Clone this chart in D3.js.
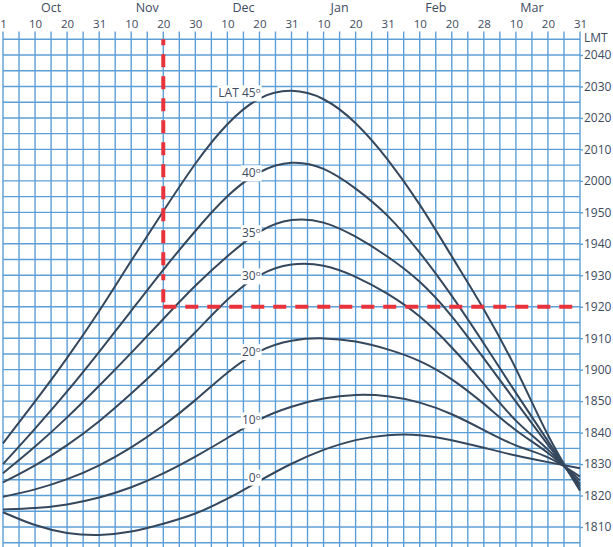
<!DOCTYPE html>
<html><head><meta charset="utf-8">
<script src="https://cdn.jsdelivr.net/npm/d3@7"></script>
<style>
html,body{margin:0;padding:0;background:#fff;}
svg{display:block;font-family:"Open Sans",sans-serif;}
</style>
</head><body>
<svg id="chart" width="613" height="547"></svg>
<script>
// ---- Data ----
const months = ["Oct","Nov","Dec","Jan","Feb","Mar"];
const dayLabels = ["1","10","20","31","10","20","30","10","20","31","10","20","31","10","20","28","10","20","31"];
// position of each labelled day along the 36-step grid (6 steps per month)
const dayIndex = [0,2,4,6,8,10,12,14,16,18,20,22,24,26,28,30,32,34,36];
// LMT ticks, minutes after 18:00 (1810 ... 2040)
const lmtTicks = [10,20,30,40,50,60,70,80,90,100,110,120,130,140,150,160];
const latitudes = ["0","10","20","30","35","40","45"];
// times in minutes after 18:00 LMT, one value per labelled day
const lat0  = [14.7,10.3,7.8,7.2,8.3,11.0,14.0,18.8,24.7,30.3,34.7,37.9,39.4,39.5,37.7,35.2,32.6,30.6,28.7];
const lat10 = [15.6,15.9,17.0,19.2,22.4,26.9,32.3,38.2,44.6,48.4,51.1,52.2,51.8,49.8,46.1,40.8,35.5,32.8,26.0];
const lat20 = [19.6,21.8,25.0,29.4,35.1,42.1,50.1,59.4,66.5,69.6,70.2,69.2,66.6,63.1,57.3,49.3,40.3,34.0,24.8];
const lat30 = [24.2,29.4,35.8,43.4,52.3,61.8,71.7,82.7,90.8,94.0,93.6,89.8,84.3,77.4,67.3,55.7,43.0,35.2,23.7];
const lat35 = [27.1,35.4,44.7,54.8,65.3,76.1,86.9,96.2,104.6,108.3,107.4,102.5,96.1,88.5,77.4,63.6,49.8,36.0,22.9];
const lat40 = [30.0,41.2,52.9,65.6,78.7,91.9,104.2,115.7,123.5,126.6,124.6,117.8,109.5,97.5,83.7,68.4,52.5,37.3,22.1];
const lat45 = [36.6,49.8,63.6,78.4,94.7,110.4,125.9,138.7,147.2,149.4,146.8,139.0,127.2,112.9,95.9,79.5,61.0,38.2,21.5];
const series = [lat0,lat10,lat20,lat30,lat35,lat40,lat45];
// example reading (red dashed): Nov 20 -> 1920
const exampleDay = 10, exampleTime = 80;

// ---- Layout ----
const W = 613, H = 547;
const gridColor = "#5c9fd6", lineColor = "#35475c", textColor = "#3e4b5e", red = "#e8323c";
const x = d3.scaleLinear().domain([0, 36]).range([3, 580]);
const y = d3.scaleLinear().domain([10, 160]).range([527, 55]);
const svg = d3.select("#chart");
svg.append("rect").attr("width", W).attr("height", H).attr("fill", "#fff");

const fmt = t => { const m = 18*60 + t; return String(Math.floor(m/60)) + String(m%60).padStart(2,"0"); };

// grid
const grid = svg.append("g").attr("stroke", gridColor).attr("stroke-width", 1.4);
grid.selectAll("line.v").data(d3.range(0, 37)).join("line").attr("class","v")
  .attr("x1", d => x(d)).attr("x2", d => x(d)).attr("y1", 31.5).attr("y2", H);
grid.selectAll("line.h").data(d3.range(5, 166, 5)).join("line").attr("class","h")
  .attr("x1", x(0)).attr("x2", x(36)).attr("y1", d => y(d)).attr("y2", d => y(d));

// top axis (days)
const topAxis = svg.append("g").attr("transform", "translate(0,28)")
  .call(d3.axisTop(x).tickValues(dayIndex).tickFormat((d,i) => dayLabels[i]).tickSize(0).tickPadding(0));
topAxis.select(".domain").remove();
topAxis.selectAll("text").attr("fill", textColor).attr("font-size", 11.5).attr("font-family", '"Open Sans",sans-serif');

// month names
svg.append("g").selectAll("text").data(months).join("text")
  .attr("x", (d,i) => x(i*6 + 3)).attr("y", 12).attr("text-anchor", "middle")
  .attr("fill", textColor).attr("font-size", 12.5).text(d => d);

// right axis (LMT)
const rightAxis = svg.append("g").attr("transform", `translate(${x(36)},0)`)
  .call(d3.axisRight(y).tickValues(lmtTicks).tickFormat(fmt).tickSize(3).tickPadding(1));
rightAxis.select(".domain").remove();
rightAxis.selectAll("line").attr("stroke", gridColor).attr("stroke-width", 1.4);
rightAxis.selectAll("text").attr("fill", textColor).attr("font-size", 12).attr("font-family", '"Open Sans",sans-serif');
svg.append("text").attr("x", x(36) + 4).attr("y", 42).attr("fill", textColor)
  .attr("font-size", 12).text("LMT");

// curves
const line = d3.line().x((d,i) => x(dayIndex[i])).y(d => y(d)).curve(d3.curveBasis);
svg.append("g").selectAll("path").data(series).join("path")
  .attr("d", line).attr("fill", "none").attr("stroke", lineColor).attr("stroke-width", 2);

// red dashed example
const ex = svg.append("g").attr("stroke", red).attr("stroke-width", 4).attr("fill","none");
ex.append("line").attr("x1", x(exampleDay)).attr("x2", x(exampleDay)).attr("y1", y(165)).attr("y2", y(exampleTime)).attr("stroke-dasharray", "6,9,13,9,13,9,13,9,13,9,13,9,13,9,13,9,13,9,13,9,13,9");
ex.append("line").attr("x1", x(exampleDay)).attr("x2", x(36)).attr("y1", y(exampleTime)).attr("y2", y(exampleTime)).attr("stroke-dasharray", "13,9");

// latitude labels
const labelG = svg.append("g");
series.forEach((s, k) => {
  const v = s[7] + 0.75 * (s[8] - s[7]);
  let baseline;
  if (k === 6) baseline = y(s[8]) + 2;
  else baseline = y(v) - 3 + 4.3 + (k === 0 ? -5 : 0);
  const g = labelG.append("g");
  const t = g.append("text").attr("x", x(16) + 1).attr("y", baseline).attr("text-anchor", "end")
    .attr("fill", textColor).attr("font-size", 12);
  t.append("tspan").text(k === 6 ? "LAT " + latitudes[k] : latitudes[k]);
  t.append("tspan").attr("font-size", 8).attr("dy", -4).text("o");
  const b = t.node().getBBox();
  g.insert("rect", "text").attr("x", b.x - 1).attr("y", b.y + 1).attr("width", b.width + 2).attr("height", b.height - 1).attr("fill", "#fff");
});
</script>
</body></html>
